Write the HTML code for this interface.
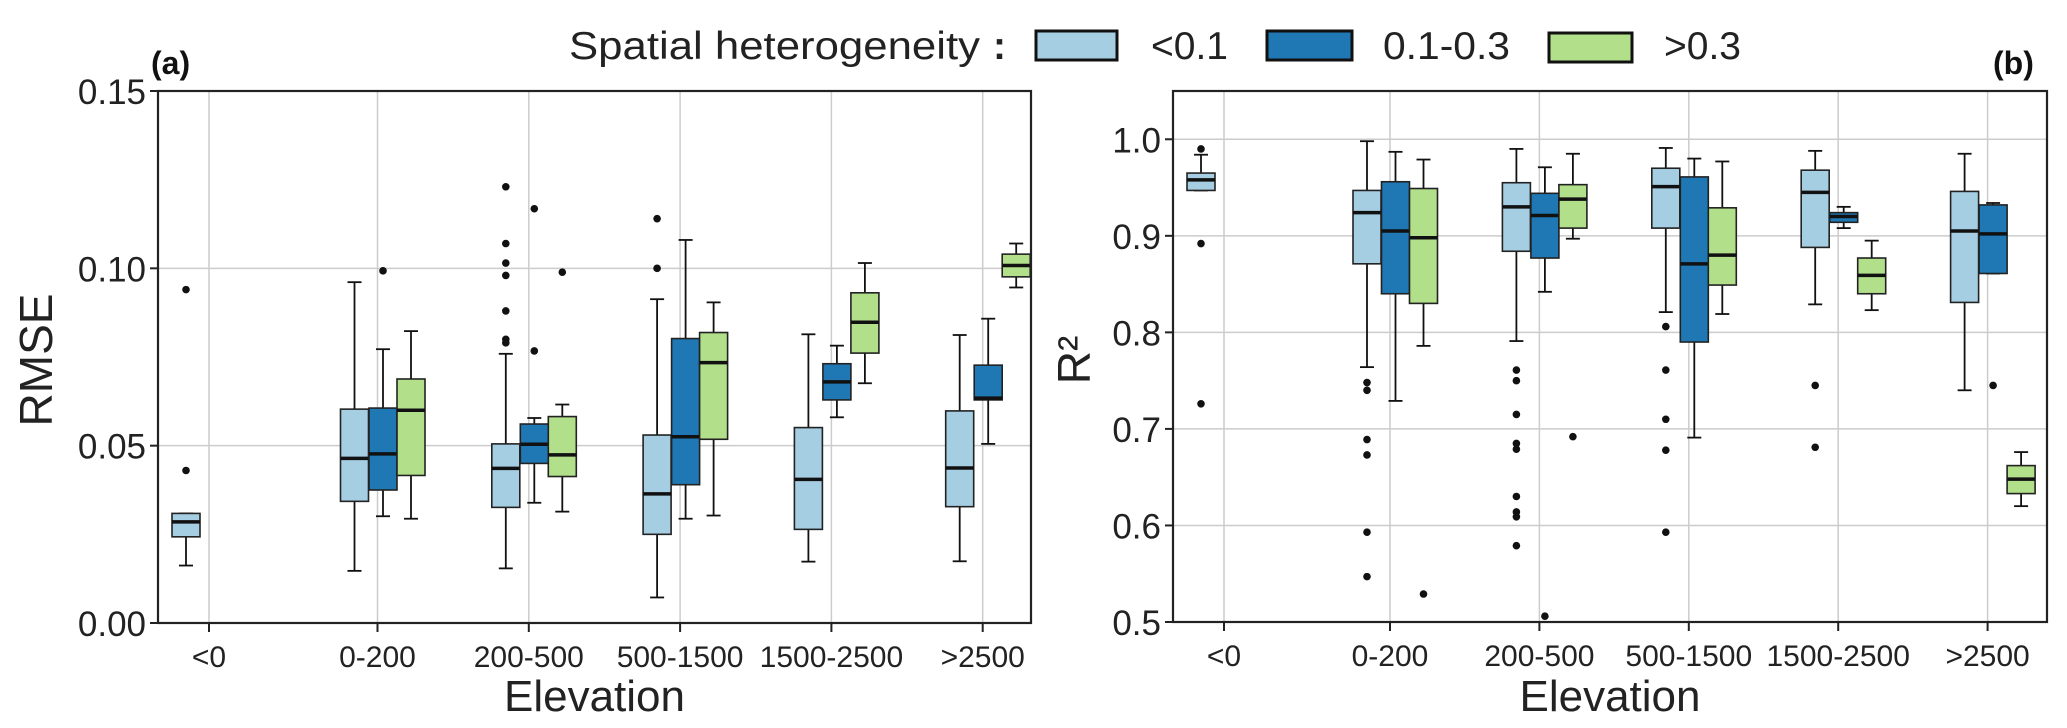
<!DOCTYPE html>
<html><head><meta charset="utf-8"><style>
body{margin:0;background:#fff;}
svg{display:block;font-family:"Liberation Sans",sans-serif;}
</style></head><body>
<svg id="chart" width="2067" height="728" viewBox="0 0 2067 728" xmlns="http://www.w3.org/2000/svg">
<text x="569" y="59" font-size="39" fill="#222" textLength="411" lengthAdjust="spacingAndGlyphs">Spatial heterogeneity</text>
<text x="993" y="59" font-size="39" font-weight="bold" fill="#222">:</text>
<rect x="1036" y="31" width="81" height="29" fill="#a6cee3" stroke="#111" stroke-width="3"/>
<text x="1151" y="59" font-size="39" fill="#222" textLength="77" lengthAdjust="spacingAndGlyphs">&lt;0.1</text>
<rect x="1267" y="31" width="85" height="29" fill="#1f78b4" stroke="#111" stroke-width="3"/>
<text x="1383" y="59" font-size="39" fill="#222" textLength="127" lengthAdjust="spacingAndGlyphs">0.1-0.3</text>
<rect x="1549" y="33" width="83" height="29" fill="#b2df8a" stroke="#111" stroke-width="3"/>
<text x="1664" y="59" font-size="39" fill="#222" textLength="77" lengthAdjust="spacingAndGlyphs">&gt;0.3</text>
<text x="151" y="74" font-size="32" font-weight="bold" fill="#111">(a)</text>
<text x="1993" y="74" font-size="32" font-weight="bold" fill="#111">(b)</text>
</svg>
<script>
const categories=["<0","0-200","200-500","500-1500","1500-2500",">2500"];
const hues=["<0.1","0.1-0.3",">0.3"];
const hueColors=["#a6cee3","#1f78b4","#b2df8a"];
// RMSE: [whiskerLow, q1, median, q3, whiskerHigh]
const rmseStats=[
 [[0.0162,0.0243,0.0285,0.0309,0.0309],null,null],
 [[0.0147,0.0343,0.0464,0.0603,0.0961],[0.0301,0.0375,0.0477,0.0606,0.0772],[0.0294,0.0416,0.060,0.0688,0.0823]],
 [[0.0154,0.0326,0.0436,0.0505,0.0759],[0.0339,0.045,0.0504,0.0561,0.0578],[0.0314,0.0413,0.0474,0.0582,0.0616]],
 [[0.0072,0.025,0.0364,0.053,0.0913],[0.0294,0.039,0.0525,0.0802,0.108],[0.0303,0.0518,0.0734,0.0819,0.0904]],
 [[0.0173,0.0264,0.0405,0.0551,0.0814],[0.058,0.0629,0.068,0.0731,0.0782],[0.0676,0.0761,0.0848,0.0931,0.1015]],
 [[0.0174,0.0328,0.0437,0.0598,0.0812],[0.0505,0.0629,0.0634,0.0727,0.0858],[0.0946,0.0976,0.1008,0.104,0.107]]
];
const rmseOutliers=[
 [[0.094,0.043],[],[]],
 [[],[0.0993],[]],
 [[0.123,0.107,0.1015,0.098,0.088,0.080,0.079],[0.1168,0.0767],[0.0989]],
 [[0.114,0.100],[],[]],
 [[],[],[]],
 [[],[],[]]
];
const r2Stats=[
 [[0.947,0.947,0.958,0.965,0.984],null,null],
 [[0.764,0.871,0.924,0.947,0.998],[0.729,0.840,0.905,0.956,0.987],[0.786,0.830,0.898,0.949,0.979]],
 [[0.791,0.884,0.930,0.955,0.990],[0.842,0.877,0.921,0.944,0.971],[0.897,0.908,0.938,0.953,0.985]],
 [[0.821,0.908,0.951,0.970,0.991],[0.691,0.790,0.871,0.961,0.980],[0.819,0.849,0.880,0.929,0.977]],
 [[0.829,0.888,0.945,0.968,0.988],[0.908,0.914,0.920,0.924,0.930],[0.823,0.840,0.859,0.877,0.895]],
 [[0.740,0.831,0.905,0.946,0.985],[0.861,0.861,0.902,0.932,0.934],[0.620,0.633,0.648,0.662,0.676]]
];
const r2Outliers=[
 [[0.99,0.892,0.726],[],[]],
 [[0.748,0.740,0.689,0.673,0.593,0.547],[],[0.529]],
 [[0.761,0.750,0.715,0.685,0.679,0.630,0.614,0.609,0.579],[0.506],[0.692]],
 [[0.806,0.761,0.710,0.678,0.593],[],[]],
 [[0.745,0.681],[],[]],
 [[],[0.745],[]]
];
const rmseTicks=[0,0.05,0.10,0.15];
const rmseTickLabels=["0.00","0.05","0.10","0.15"];
const r2Ticks=[0.5,0.6,0.7,0.8,0.9,1.0];
const r2TickLabels=["0.5","0.6","0.7","0.8","0.9","1.0"];

const NS="http://www.w3.org/2000/svg";
const svg=document.getElementById('chart');
function mk(tag,attrs,parent){const e=document.createElementNS(NS,tag);for(const k in attrs)e.setAttribute(k,attrs[k]);(parent||svg).appendChild(e);return e;}

function drawPanel(p){
  const g=mk('g',{});
  
  
  const y=v=>p.bottom-(v-p.ymin)/(p.ymax-p.ymin)*(p.bottom-p.top);
  const x=i=>i===0?p.c0:p.c1+(i-1)*p.step;
  p.ticks.forEach((t,k)=>{
    const gl=mk('line',{x1:p.left,x2:p.right,y1:y(t),y2:y(t),stroke:'#cccccc','stroke-width':1.5},g);
    
    
    const tk=mk('line',{x1:p.left-8,x2:p.left,y1:y(t),y2:y(t),stroke:'#222','stroke-width':2},g);
    
    
    const tl=mk('text',{x:p.left-12,y:y(t)+13,'text-anchor':'end','font-size':35,fill:'#222'},g);
    tl.textContent=p.tickLabels[k];
    
    
  });
  categories.forEach((c,i)=>{
    const gl=mk('line',{x1:x(i),x2:x(i),y1:p.top,y2:p.bottom,stroke:'#cccccc','stroke-width':1.5},g);
    
    
    const tk=mk('line',{x1:x(i),x2:x(i),y1:p.bottom,y2:p.bottom+9,stroke:'#222','stroke-width':2},g);
    
    
    const tl=mk('text',{x:x(i),y:p.bottom+44,'text-anchor':'middle','font-size':30,fill:'#222'},g);
    tl.textContent=c;
    
    
  });
  const offs=[-23,5.5,33.5], bw=28, cap=7;
  categories.forEach((c,i)=>{
    hues.forEach((h,j)=>{
      const s=p.stats[i][j];
      const cx=x(i)+offs[j];
      if(s){
        const bg=mk('g',{},g);
        
        
        mk('line',{x1:cx,x2:cx,y1:y(s[0]),y2:y(s[1]),stroke:'#111','stroke-width':1.8},bg);
        mk('line',{x1:cx,x2:cx,y1:y(s[3]),y2:y(s[4]),stroke:'#111','stroke-width':1.8},bg);
        mk('line',{x1:cx-cap,x2:cx+cap,y1:y(s[0]),y2:y(s[0]),stroke:'#111','stroke-width':1.8},bg);
        mk('line',{x1:cx-cap,x2:cx+cap,y1:y(s[4]),y2:y(s[4]),stroke:'#111','stroke-width':1.8},bg);
        mk('rect',{x:cx-bw/2,y:y(s[3]),width:bw,height:Math.max(1,y(s[1])-y(s[3])),fill:hueColors[j],stroke:'#222','stroke-width':1.6},bg);
        mk('line',{x1:cx-bw/2,x2:cx+bw/2,y1:y(s[2]),y2:y(s[2]),stroke:'#111','stroke-width':3.5},bg);
      }
      p.outliers[i][j].forEach(v=>{
        const d=mk('circle',{cx:cx,cy:y(v),r:3.8,fill:'#111'},g);
        
        
      });
    });
  });
  const fr=mk('rect',{x:p.left,y:p.top,width:p.right-p.left,height:p.bottom-p.top,fill:'none',stroke:'#222','stroke-width':2.2},g);
  
  
  const xt=mk('text',{x:(p.left+p.right)/2,y:711,'text-anchor':'middle','font-size':44,fill:'#222'},g);
  xt.textContent='Elevation';
  
  
  const yt=mk('text',{x:0,y:0,'text-anchor':'middle','font-size':46,fill:'#222',transform:`translate(${p.ytx},360) rotate(-90)`},g);
  yt.textContent=p.ytitle;
  
  
}
drawPanel({name:'rmse-panel',left:158,right:1031,top:91,bottom:623,ymin:0,ymax:0.15,c0:209,c1:377.5,step:151.3,
  ticks:rmseTicks,tickLabels:rmseTickLabels,stats:rmseStats,outliers:rmseOutliers,ytitle:'RMSE',ytx:52});
drawPanel({name:'r2-panel',left:1173,right:2047,top:91,bottom:622,ymin:0.5,ymax:1.05,c0:1224,c1:1390,step:149.4,
  ticks:r2Ticks,tickLabels:r2TickLabels,stats:r2Stats,outliers:r2Outliers,ytitle:'R²',ytx:1090});
</script>
</body></html>
